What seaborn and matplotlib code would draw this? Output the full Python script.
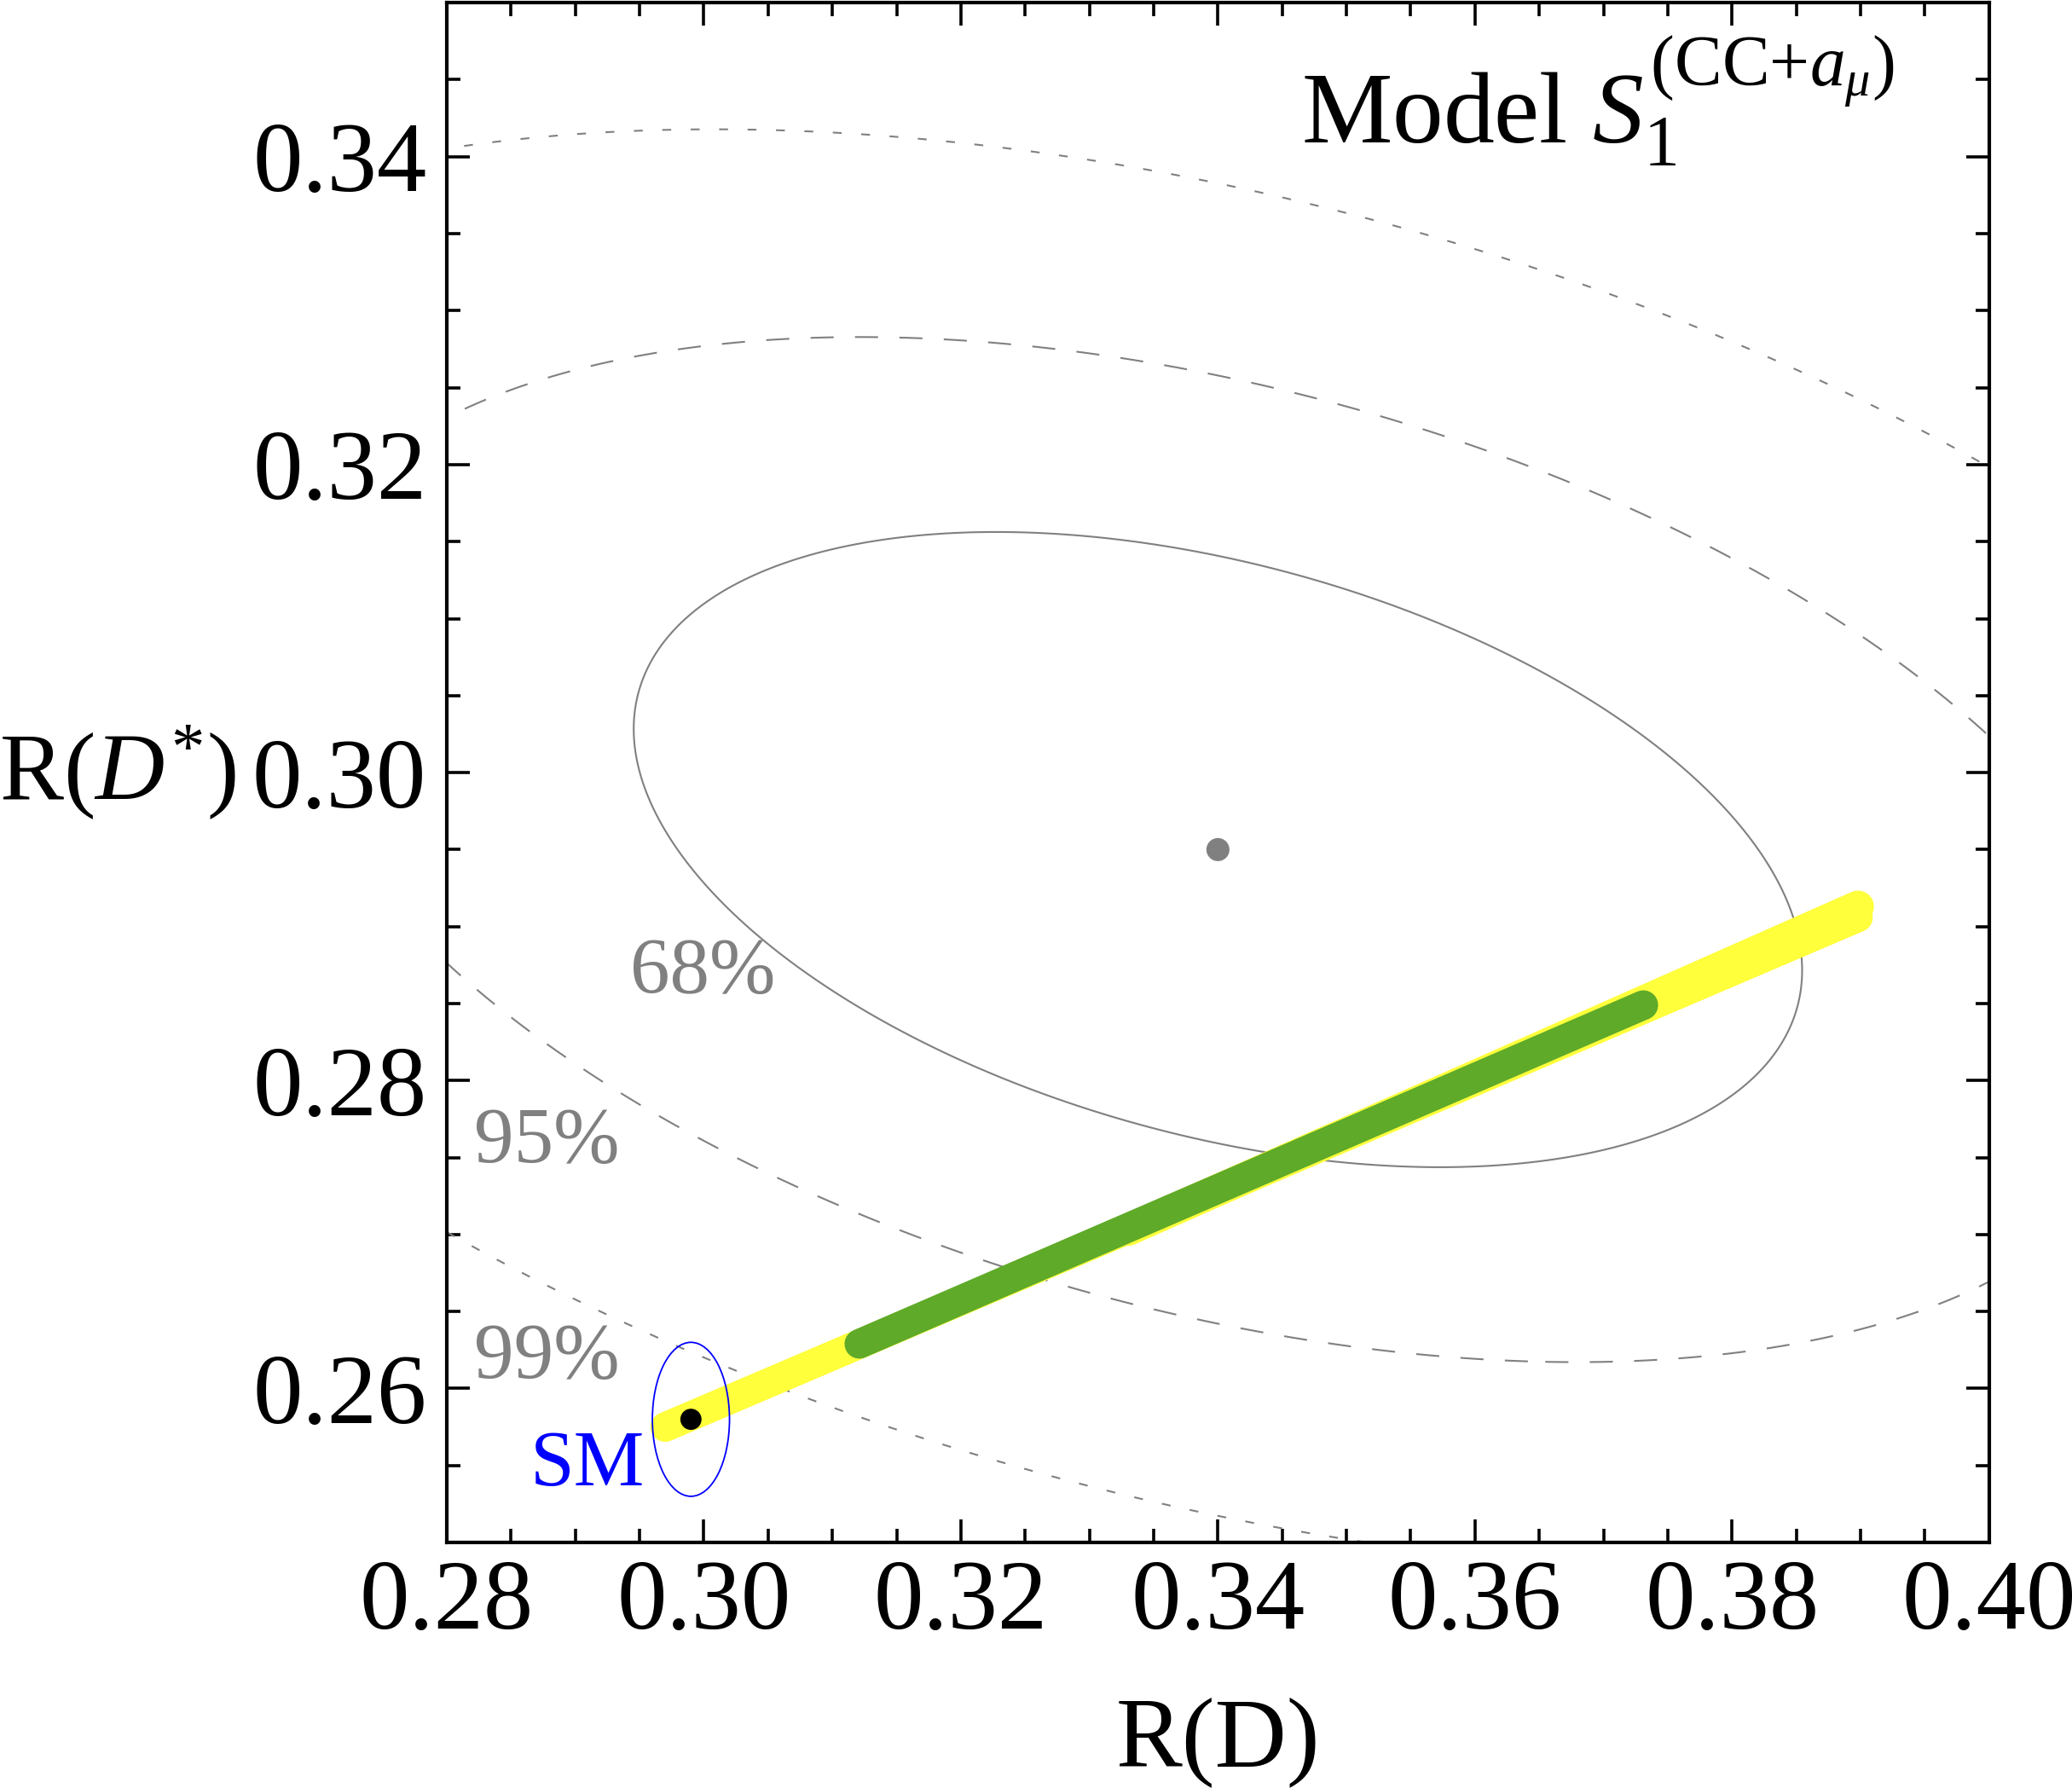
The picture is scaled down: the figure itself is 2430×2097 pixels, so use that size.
import numpy as np
import matplotlib
matplotlib.use("Agg")
import matplotlib.pyplot as plt
from matplotlib.patches import Ellipse
from matplotlib.ticker import MultipleLocator, FormatStrFormatter
import seaborn as sns

# ---------------- style ----------------
sns.set_theme(style="ticks")
plt.rcParams["font.family"] = ["Liberation Serif", "DejaVu Serif"]
plt.rcParams["mathtext.fontset"] = "custom"
plt.rcParams["mathtext.rm"] = "Liberation Serif"
plt.rcParams["mathtext.it"] = "Liberation Serif:italic"
plt.rcParams["mathtext.bf"] = "Liberation Serif:bold"
plt.rcParams["text.color"] = "black"
plt.rcParams["axes.labelcolor"] = "black"

GRAY = "#808080"
YELLOW = "#FFFF3C"
GREEN = "#5FAA28"

# ---------------- data ----------------
# experimental average R(D), R(D*) with total errors and correlation
exp_center = (0.340, 0.295)
exp_sigma = (0.02997, 0.01360)
exp_rho = -0.38
cl_levels = [2.30, 5.99, 11.83]          # delta chi^2 for the drawn contours
cl_labels = ["68%", "95%", "99%"]
cl_label_x = [0.2943, 0.2821, 0.2821]
cl_label_y = [0.2857, 0.2747, 0.2607]

# SM prediction
sm_center = (0.299, 0.258)
sm_sigma = (0.003, 0.005)

# model scan (yellow: all points, green: preferred region)
yellow_rd = [0.2970, 0.3430, 0.3898]
yellow_rds = [0.2575, 0.2739, 0.2906]
yellow_top_rd = [0.3330, 0.3898]
yellow_top_rds = [0.2703, 0.2913]
green_rd = [0.3121, 0.3426, 0.3731]
green_rds = [0.2629, 0.2739, 0.2849]

xlim = (0.28, 0.40)
ylim = (0.25, 0.35)

# ---------------- figure ----------------
fig = plt.figure(figsize=(24.3, 20.97), dpi=100)
ax = fig.add_axes([0.2156, 0.1373, 0.7444, 0.8612])

# chi2 contours of the measurement
gx = np.linspace(0.26, 0.42, 900)
gy = np.linspace(0.23, 0.37, 900)
X, Y = np.meshgrid(gx, gy)
dx = (X - exp_center[0]) / exp_sigma[0]
dy = (Y - exp_center[1]) / exp_sigma[1]
chi2 = (dx**2 - 2 * exp_rho * dx * dy + dy**2) / (1 - exp_rho**2)
ax.contour(X, Y, chi2, levels=cl_levels, colors=GRAY, linewidths=1.5,
           linestyles=["solid", (0, (13, 12)), (0, (5, 11))])

for lab, lx, ly in zip(cl_labels, cl_label_x, cl_label_y):
    ax.text(lx, ly, lab, color=GRAY, fontsize=67, ha="left", va="baseline")

# model bands
sns.lineplot(x=yellow_rd, y=yellow_rds, color=YELLOW, linewidth=25, sort=False,
             solid_capstyle="round", ax=ax)
sns.lineplot(x=yellow_top_rd, y=yellow_top_rds, color=YELLOW, linewidth=27, sort=False,
             solid_capstyle="round", ax=ax)
sns.lineplot(x=green_rd, y=green_rds, color=GREEN, linewidth=25, sort=False,
             solid_capstyle="round", ax=ax)

# measurement central value
ax.scatter([exp_center[0]], [exp_center[1]], color=GRAY, s=380,
           edgecolors="none", zorder=5)

# SM point and ellipse
ax.add_patch(Ellipse(sm_center, 2 * sm_sigma[0], 2 * sm_sigma[1], fill=False,
                     edgecolor="blue", linewidth=1.3, zorder=6))
ax.scatter([sm_center[0]], [sm_center[1]], color="black", s=320,
           edgecolors="none", zorder=7)
ax.text(0.2954, 0.2537, "SM", color="blue", fontsize=67, ha="right", va="baseline")

# model label
ax.text(0.3926, 0.3409, r"Model $S_1^{(\mathrm{CC{+}}a_\mu)}$", fontsize=86,
        ha="right", va="baseline", color="black")

# axes
ax.set_xlim(*xlim)
ax.set_ylim(*ylim)
ax.xaxis.set_major_locator(MultipleLocator(0.02))
ax.xaxis.set_minor_locator(MultipleLocator(0.005))
ax.yaxis.set_major_locator(MultipleLocator(0.02))
ax.yaxis.set_minor_locator(MultipleLocator(0.005))
ax.xaxis.set_major_formatter(FormatStrFormatter("%.2f"))
ax.yaxis.set_major_formatter(FormatStrFormatter("%.2f"))
ax.tick_params(which="both", direction="in", top=True, right=True,
               labelsize=84, colors="black", labelcolor="black", width=2.6)
ax.tick_params(axis="x", which="major", length=19.5, pad=14)
ax.tick_params(axis="y", which="major", length=19.5, pad=17)
ax.tick_params(which="minor", length=11.5)
for sp in ax.spines.values():
    sp.set_linewidth(3)
    sp.set_color("black")

ax.set_xlabel("R(D)", fontsize=84, color="black")
ax.xaxis.set_label_coords(0.5, -0.1295)
ax.xaxis.label.set_va("center")
ax.set_ylabel(r"R$(D^{*})$", fontsize=81, rotation=0, ha="center", va="center",
              color="black")
ax.yaxis.set_label_coords(-0.2135, 0.5)

fig.savefig("out.png", dpi=100, facecolor="white")
